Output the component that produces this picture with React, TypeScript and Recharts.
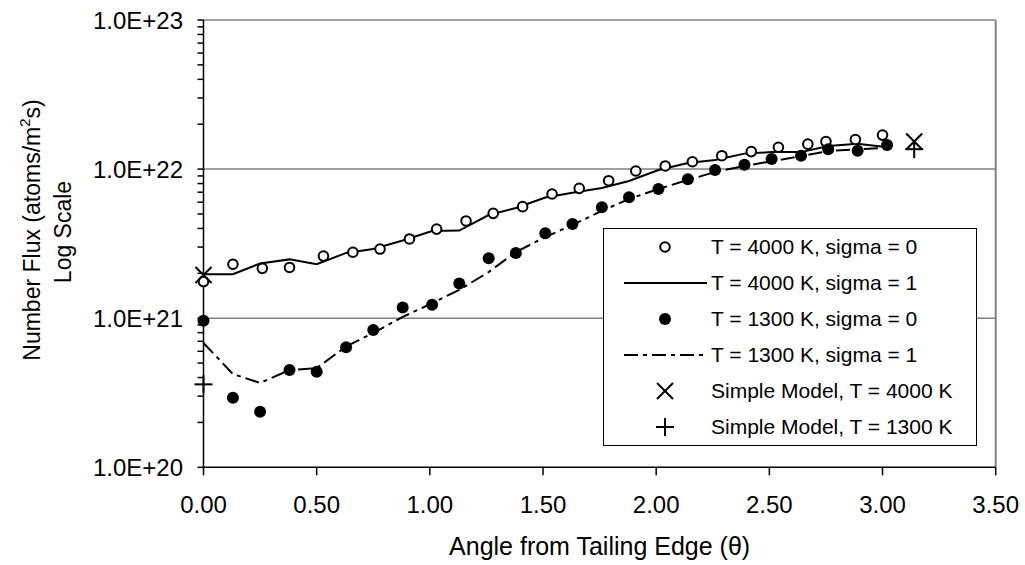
import React from "react";
import {
  ComposedChart,
  Line,
  Scatter,
  XAxis,
  YAxis,
  ReferenceLine,
  Legend,
} from "recharts";

const FONT = '"Liberation Sans", Arial, sans-serif';

// angle from tailing edge (rad)
const thetaOpen = [
  0, 0.13, 0.26, 0.38, 0.53, 0.66, 0.78, 0.91, 1.03, 1.16, 1.28, 1.41, 1.54,
  1.66, 1.79, 1.91, 2.04, 2.16, 2.29, 2.42, 2.54, 2.67, 2.75, 2.88, 3.0,
];
const theta = [
  0, 0.13, 0.25, 0.38, 0.5, 0.63, 0.75, 0.88, 1.01, 1.13, 1.26, 1.38, 1.51,
  1.63, 1.76, 1.88, 2.01, 2.14, 2.26, 2.39, 2.51, 2.64, 2.76, 2.89, 3.02,
];
const thetaSimple = [0, 3.14];

// number flux (atoms/m^2 s)
const flux4000s0 = [
  1.76e21, 2.3e21, 2.16e21, 2.19e21, 2.61e21, 2.77e21, 2.91e21, 3.4e21, 3.96e21,
  4.49e21, 5.05e21, 5.6e21, 6.81e21, 7.43e21, 8.36e21, 9.71e21, 1.05e22,
  1.12e22, 1.23e22, 1.31e22, 1.4e22, 1.47e22, 1.53e22, 1.58e22, 1.69e22,
];
const flux4000s1 = [
  1.97e21, 1.97e21, 2.33e21, 2.48e21, 2.3e21, 2.74e21, 2.91e21, 3.32e21,
  3.84e21, 3.87e21, 4.92e21, 5.48e21, 6.45e21, 6.95e21, 7.47e21, 8.32e21,
  9.86e21, 1.1e22, 1.15e22, 1.27e22, 1.3e22, 1.3e22, 1.43e22, 1.48e22, 1.4e22,
];
const flux1300s0 = [
  9.62e20, 2.93e20, 2.36e20, 4.49e20, 4.38e20, 6.38e20, 8.33e20, 1.18e21,
  1.23e21, 1.71e21, 2.52e21, 2.74e21, 3.71e21, 4.28e21, 5.54e21, 6.47e21,
  7.36e21, 8.54e21, 9.86e21, 1.07e22, 1.17e22, 1.23e22, 1.36e22, 1.33e22,
  1.45e22,
];
const flux1300s1 = [
  6.82e20, 4.22e20, 3.68e20, 4.49e20, 4.63e20, 6.46e20, 7.96e20, 1.02e21,
  1.26e21, 1.55e21, 2.04e21, 2.78e21, 3.5e21, 4.22e21, 5.24e21, 6.3e21, 7.36e21,
  8.45e21, 9.56e21, 1.05e22, 1.13e22, 1.22e22, 1.32e22, 1.36e22, 1.39e22,
];
const simple4000 = [1.95e21, 1.53e22];
const simple1300 = [3.6e20, 1.36e22];

const xTicks = [0, 0.5, 1, 1.5, 2, 2.5, 3, 3.5];
const yMajor = [1e20, 1e21, 1e22, 1e23];
const yMinor = [2, 3, 4, 5, 6, 7, 8, 9];
const yTicks = yMajor.flatMap((d, i) =>
  i < yMajor.length - 1 ? [d, ...yMinor.map((m) => m * d)] : [d]
);

const toPts = (xs: number[], ys: number[]) =>
  xs.map((x, i) => ({ x, y: ys[i] }));

const DASH_DOT = "14 5 4 5";

const OpenDot = ({ cx, cy }: any) => (
  <circle cx={cx} cy={cy} r={4.8} fill="#fff" stroke="#000" strokeWidth={2} />
);
const FilledDot = ({ cx, cy }: any) => (
  <circle cx={cx} cy={cy} r={6} fill="#000" />
);
const Cross = ({ cx, cy }: any) => (
  <g stroke="#000" strokeWidth={2}>
    <line x1={cx - 8} y1={cy - 8} x2={cx + 8} y2={cy + 8} />
    <line x1={cx - 8} y1={cy + 8} x2={cx + 8} y2={cy - 8} />
  </g>
);
const Plus = ({ cx, cy }: any) => (
  <g stroke="#000" strokeWidth={2}>
    <line x1={cx - 9} y1={cy} x2={cx + 9} y2={cy} />
    <line x1={cx} y1={cy - 9} x2={cx} y2={cy + 9} />
  </g>
);

const legendItems = [
  { name: "T = 4000 K, sigma = 0", kind: "open" },
  { name: "T = 4000 K, sigma = 1", kind: "solid" },
  { name: "T = 1300 K, sigma = 0", kind: "filled" },
  { name: "T = 1300 K, sigma = 1", kind: "dashdot" },
  { name: "Simple Model, T = 4000 K", kind: "cross" },
  { name: "Simple Model, T = 1300 K", kind: "plus" },
];

const LegendSymbol = ({ kind }: { kind: string }) => {
  const cx = 61;
  const cy = 18;
  return (
    <svg width={106} height={36} style={{ display: "block", flex: "none" }}>
      {kind === "open" && <OpenDot cx={cx} cy={cy} />}
      {kind === "filled" && <FilledDot cx={cx} cy={cy} />}
      {kind === "cross" && <Cross cx={cx} cy={cy} />}
      {kind === "plus" && <Plus cx={cx} cy={cy} />}
      {kind === "solid" && (
        <line x1={20} y1={cy} x2={103} y2={cy} stroke="#000" strokeWidth={2} />
      )}
      {kind === "dashdot" && (
        <line
          x1={20}
          y1={cy}
          x2={103}
          y2={cy}
          stroke="#000"
          strokeWidth={2}
          strokeDasharray={DASH_DOT}
        />
      )}
    </svg>
  );
};

const LegendBox = () => (
  <div
    style={{
      border: "1px solid #000",
      background: "#fff",
      width: 372,
      height: 216,
      fontFamily: FONT,
      fontSize: 21,
      color: "#000",
    }}
  >
    {legendItems.map((it) => (
      <div
        key={it.name}
        style={{ display: "flex", alignItems: "center", height: 36 }}
      >
        <LegendSymbol kind={it.kind} />
        <span style={{ marginLeft: 1, whiteSpace: "nowrap" }}>{it.name}</span>
      </div>
    ))}
  </div>
);

const YTitle = () => (
  <g fontFamily={FONT} fontSize={23} fill="#000">
    <text
      x={32}
      y={230}
      transform="rotate(-90 32 230)"
      textAnchor="middle"
      dominantBaseline="central"
    >
      Number Flux (atoms/m
      <tspan dy={-8} fontSize={15}>
        2
      </tspan>
      <tspan dy={8}>s)</tspan>
    </text>
    <text
      x={63}
      y={232}
      transform="rotate(-90 63 232)"
      textAnchor="middle"
      dominantBaseline="central"
    >
      Log Scale
    </text>
  </g>
);

const XTitle = () => (
  <text
    x={599.6}
    y={555}
    textAnchor="middle"
    fontFamily={FONT}
    fontSize={25}
    fill="#000"
  >
    Angle from Tailing Edge (θ)
  </text>
);

const fmtY = (v: number) => {
  const l = Math.log10(v);
  if (Math.abs(l - Math.round(l)) > 1e-9) return "";
  return v.toExponential(1).toUpperCase();
};

export default function App() {
  return (
    <div style={{ position: "absolute", left: 0, top: 0, background: "#fff" }}>
      <ComposedChart
        width={1025}
        height={565}
        margin={{ top: 20, right: 29.3, bottom: 0, left: 0 }}
        style={{ fontFamily: FONT }}
      >
        <XAxis
          type="number"
          dataKey="x"
          domain={[0, 3.5]}
          ticks={xTicks}
          interval={0}
          tickFormatter={(v: number) => v.toFixed(2)}
          height={97.7}
          tickSize={8}
          tickMargin={21}
          stroke="#000"
          strokeWidth={1.5}
          tick={{ fontSize: 24, fill: "#000", fontFamily: FONT }}
          label={<XTitle />}
        />
        <YAxis
          type="number"
          dataKey="y"
          scale="log"
          domain={[1e20, 1e23]}
          ticks={yTicks}
          interval={0}
          tickFormatter={fmtY}
          width={203.5}
          tickSize={6}
          tickMargin={14.5}
          stroke="#000"
          strokeWidth={1.5}
          tick={{ fontSize: 24, fill: "#000", fontFamily: FONT }}
          label={<YTitle />}
        />
        {[1e21, 1e22, 1e23].map((v) => (
          <ReferenceLine key={v} y={v} stroke="#808080" strokeWidth={1.5} />
        ))}
        <ReferenceLine x={3.5} stroke="#808080" strokeWidth={2} />
        <Legend
          layout="vertical"
          align="center"
          verticalAlign="middle"
          content={() => <LegendBox />}
          wrapperStyle={{ left: 603, top: 228, width: 374, height: 218 }}
        />
        <Scatter
          name="T = 4000 K, sigma = 0"
          data={toPts(thetaOpen, flux4000s0)}
          shape={<OpenDot />}
          isAnimationActive={false}
        />
        <Line
          name="T = 4000 K, sigma = 1"
          data={toPts(theta, flux4000s1)}
          dataKey="y"
          type="linear"
          stroke="#000"
          strokeWidth={2}
          dot={false}
          activeDot={false}
          isAnimationActive={false}
        />
        <Scatter
          name="T = 1300 K, sigma = 0"
          data={toPts(theta, flux1300s0)}
          shape={<FilledDot />}
          isAnimationActive={false}
        />
        <Line
          name="T = 1300 K, sigma = 1"
          data={toPts(theta, flux1300s1)}
          dataKey="y"
          type="linear"
          stroke="#000"
          strokeWidth={2}
          strokeDasharray={DASH_DOT}
          dot={false}
          activeDot={false}
          isAnimationActive={false}
        />
        <Scatter
          name="Simple Model, T = 4000 K"
          data={toPts(thetaSimple, simple4000)}
          shape={<Cross />}
          isAnimationActive={false}
        />
        <Scatter
          name="Simple Model, T = 1300 K"
          data={toPts(thetaSimple, simple1300)}
          shape={<Plus />}
          isAnimationActive={false}
        />
      </ComposedChart>
    </div>
  );
}
